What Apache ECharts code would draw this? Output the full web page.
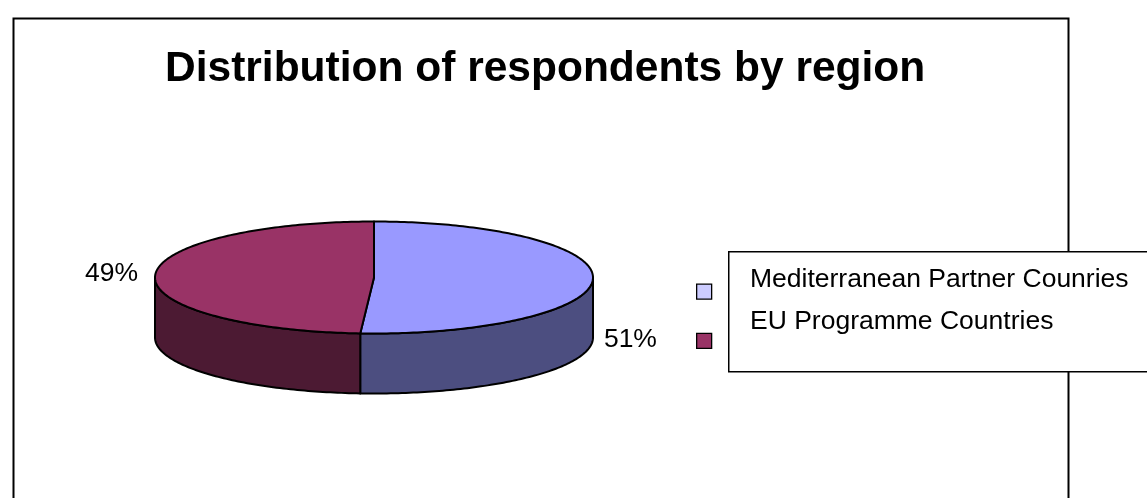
<!DOCTYPE html>
<html>
<head>
<meta charset="utf-8">
<title>Distribution of respondents by region</title>
<script src="https://cdn.jsdelivr.net/npm/echarts@6/dist/echarts.min.js"></script>
<style>
  html, body { margin: 0; padding: 0; background: #fff; }
  #chart { width: 1147px; height: 498px; }
</style>
</head>
<body>
<div id="chart"></div>
<script>
// Respondents by region, in percent
const categories = ['Mediterranean Partner Counries', 'EU Programme Countries'];
const shares = [51, 49];

// Face colours of each slice and its legend swatch
const topColors = ['#9999ff', '#993366'];
const sideColors = ['#4c4e80', '#4c1a33'];
const swatchColors = ['#ccccff', '#993366'];

const FONT = '"Liberation Sans", Arial, Helvetica, sans-serif';

// Tilted pie geometry: ellipse centre, radii and thickness of the disc
const PIE = { cx: 374, cy: 277.5, rx: 219, ry: 56, depth: 60 };

const total = shares.reduce((a, b) => a + b, 0);

// Point on the rim for an angle measured clockwise from 12 o'clock
function rim(a, dy) {
  return [PIE.cx + PIE.rx * Math.sin(a), PIE.cy - PIE.ry * Math.cos(a) + (dy || 0)];
}
function arc(s, e, dy) {
  const n = Math.max(2, Math.ceil((e - s) / (2 * Math.PI) * 360));
  const pts = [];
  for (let k = 0; k <= n; k++) pts.push(rim(s + (e - s) * k / n, dy));
  return pts;
}

function sliceRenderer(idx) {
  return function (params, api) {
    const value = api.value(0);
    let before = 0;
    for (let j = 0; j < idx; j++) before += shares[j];
    const a0 = before / total * 2 * Math.PI;
    const a1 = (before + value) / total * 2 * Math.PI;
    const children = [];

    // visible wall: the front half of the disc
    const fs = Math.max(a0, Math.PI / 2);
    const fe = Math.min(a1, Math.PI * 3 / 2);
    if (fe > fs) {
      const wall = arc(fs, fe, 0).concat(arc(fs, fe, PIE.depth).reverse());
      children.push({
        type: 'polygon',
        z2: 1,
        shape: { points: wall },
        style: { fill: sideColors[idx], stroke: '#000', lineWidth: 2, lineJoin: 'round' }
      });
    }

    // top face
    const top = [[PIE.cx, PIE.cy]].concat(arc(a0, a1, 0));
    children.push({
      type: 'polygon',
      z2: 2,
      shape: { points: top },
      style: { fill: topColors[idx], stroke: '#000', lineWidth: 2, lineJoin: 'round' }
    });

    // percent label outside the rim
    const mid = (a0 + a1) / 2;
    const p = rim(mid, 0);
    const right = Math.sin(mid) >= 0;
    children.push({
      type: 'text',
      z2: 3,
      x: right ? p[0] + 11 : p[0] - 17,
      y: right ? p[1] + PIE.depth : p[1] - 2,
      style: {
        text: Math.round(value / total * 100) + '%',
        fill: '#000',
        fontSize: 26.5,
        fontFamily: FONT,
        align: right ? 'left' : 'right',
        verticalAlign: 'middle'
      }
    });
    return { type: 'group', children: children };
  };
}

const chart = echarts.init(document.getElementById('chart'), null, { renderer: 'canvas' });

chart.setOption({
  backgroundColor: '#ffffff',
  animation: false,
  title: {
    text: 'Distribution of respondents by region',
    left: 165,
    top: 44,
    padding: 0,
    textStyle: { fontSize: 42.5, fontWeight: 'bold', fontFamily: FONT, color: '#000', lineHeight: 50 }
  },
  graphic: [
    {
      type: 'rect', z: 0, left: 11, top: 16,
      shape: { width: 1055, height: 520 },
      style: { fill: 'none', stroke: '#000', lineWidth: 2 }
    },
    {
      type: 'rect', z: 1, left: 728, top: 251,
      shape: { width: 440, height: 120 },
      style: { fill: '#fff', stroke: '#000', lineWidth: 1.5 }
    }
  ],
  legend: [
    {
      orient: 'vertical',
      left: 696,
      top: 283.5,
      padding: 0,
      itemWidth: 15,
      itemHeight: 15,
      itemGap: 33,
      selectedMode: false,
      icon: 'rect',
      formatter: function () { return ''; },
      textStyle: { fontSize: 1 },
      itemStyle: { borderColor: '#000', borderWidth: 1.3 },
      data: categories.map((n, i) => ({ name: n, itemStyle: { color: swatchColors[i] } }))
    },
    {
      orient: 'vertical',
      left: 744,
      top: 266,
      padding: 0,
      itemWidth: 1,
      itemHeight: 1,
      itemGap: 15,
      selectedMode: false,
      icon: 'rect',
      itemStyle: { color: 'rgba(0,0,0,0)', borderWidth: 0 },
      textStyle: { fontSize: 26.5, lineHeight: 26, fontFamily: FONT, color: '#000' },
      data: categories
    }
  ],
  series: categories.map((name, i) => ({
    type: 'custom',
    name: name,
    coordinateSystem: 'none',
    itemStyle: { color: topColors[i] },
    renderItem: sliceRenderer(i),
    data: [shares[i]]
  }))
});
</script>
</body>
</html>
